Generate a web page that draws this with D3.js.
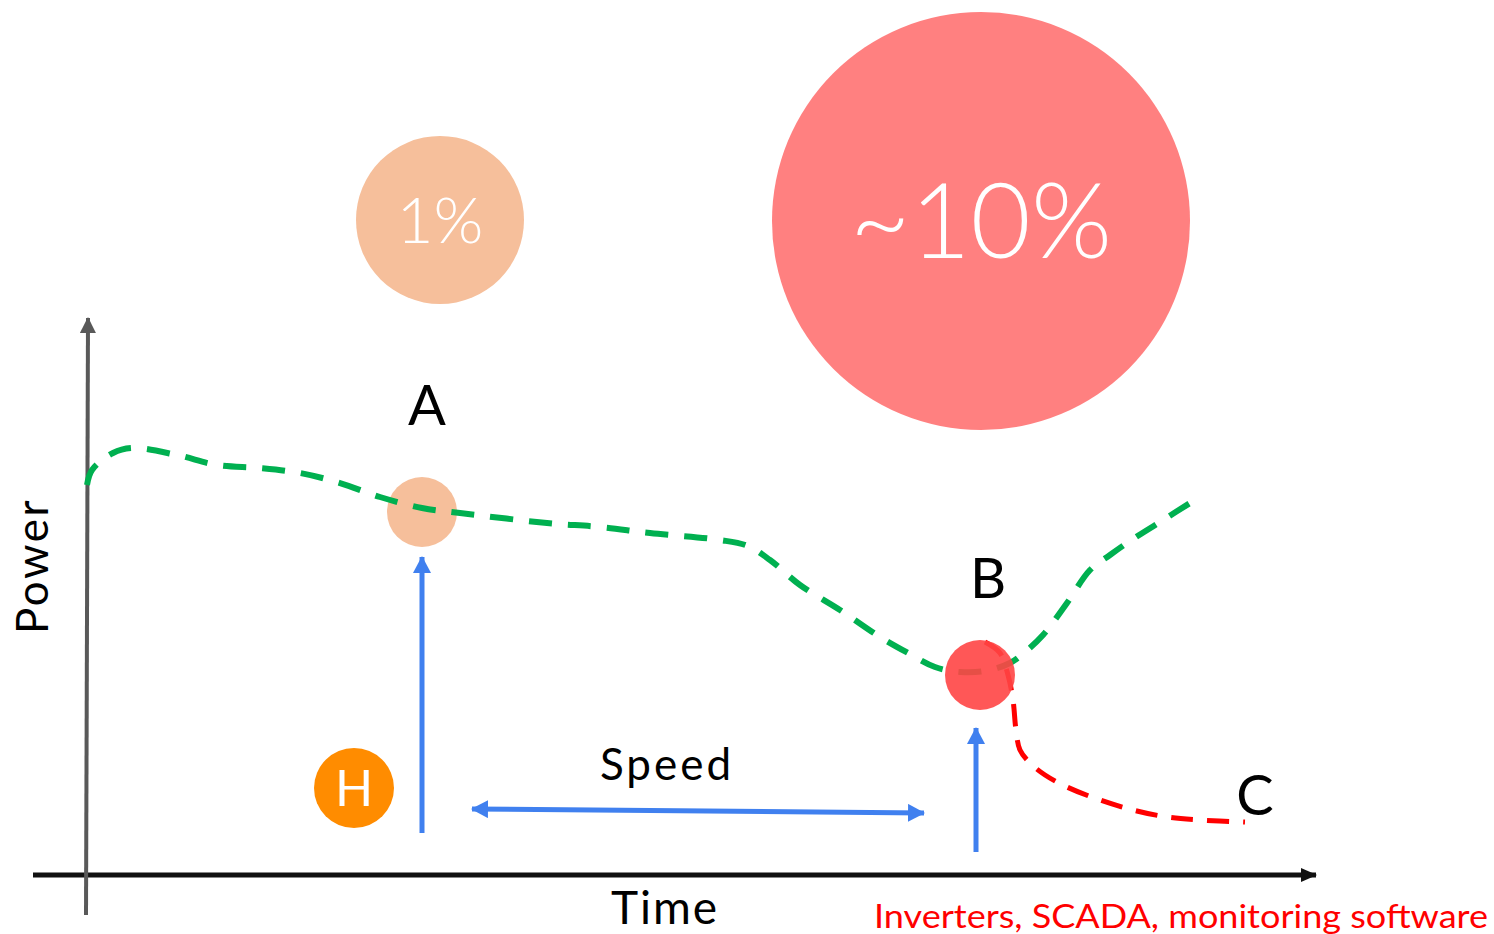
<!DOCTYPE html>
<html>
<head>
<meta charset="utf-8">
<script src="https://cdn.jsdelivr.net/npm/d3@7"></script>
<style>
  html, body { margin: 0; padding: 0; background: #fff; }
  svg text { font-family: Lato, "Open Sans", sans-serif; }
</style>
</head>
<body>
<script>
var W = 1494, H = 934;

// power curve, expected output (time, power)
var greenTime  = [0.1, 0.6, 2.7, 4.7, 9.1, 13.1, 17.4, 21.4, 25.4, 29.4, 33.6, 37.4, 46.1, 51.4, 56.4, 63.4, 66.2, 68.4, 71.4, 75.4, 79.4, 82.2, 84.9, 87.4, 89.9, 92.4, 93.9, 95.7, 98.1, 100.4, 102.4, 104.4, 107.4, 111.2];
var greenPower = [39.0, 40.5, 42.2, 42.7, 42.0, 41.0, 40.7, 40.2, 39.2, 37.8, 36.7, 36.2, 35.2, 34.8, 34.2, 33.5, 32.9, 31.5, 29.0, 26.5, 23.8, 22.2, 20.8, 20.3, 20.4, 21.2, 22.3, 24.0, 27.2, 30.5, 32.0, 33.4, 35.3, 37.7];

// failure branch
var redTime  = [89.9, 91.4, 92.2, 92.7, 93.0, 93.4, 94.4, 95.9, 98.1, 101.4, 104.7, 108.1, 111.4, 115.9];
var redPower = [23.3, 22.2, 20.0, 17.5, 14.5, 12.5, 11.2, 10.0, 8.8, 7.5, 6.5, 5.8, 5.5, 5.3];

// events on the curve
var events = [
  {name: "A", t: 33.6, p: 36.3, fill: "#f6bf9b", opacity: 1},
  {name: "B", t: 89.4, p: 20.0, fill: "#ff4545", opacity: 0.9}
];

// bubbles with loss share
var bubbles = [
  {label: "1%",   t: 35.4, p: 65.5, r: 84,  fill: "#f6bf9b", size: 64},
  {label: "~10%", t: 89.5, p: 65.4, r: 209, fill: "#ff8080", size: 104}
];

var svg = d3.select("body").append("svg")
  .attr("width", W).attr("height", H);

var x = d3.scaleLinear().domain([0, 120]).range([86, 1286]);
var y = d3.scaleLinear().domain([0, 55]).range([875, 325]);

var defs = svg.append("defs");
function marker(id, color, len, wid) {
  defs.append("marker")
    .attr("id", id)
    .attr("markerUnits", "userSpaceOnUse")
    .attr("viewBox", "0 0 " + len + " " + wid)
    .attr("refX", len - 1).attr("refY", wid / 2)
    .attr("markerWidth", len).attr("markerHeight", wid)
    .attr("orient", "auto-start-reverse")
    .append("path")
    .attr("d", "M0,0L" + len + "," + (wid / 2) + "L0," + wid + "Z")
    .attr("fill", color);
}
marker("blue", "#4080ef", 17, 18);
marker("black", "#111", 16, 14);
marker("gray", "#595959", 16, 16);

// big bubbles
var bub = svg.selectAll("g.bubble").data(bubbles).enter().append("g")
  .attr("class", "bubble")
  .attr("transform", function(d){ return "translate(" + x(d.t) + "," + y(d.p) + ")"; });
bub.append("circle").attr("r", function(d){ return d.r; })
  .attr("fill", function(d){ return d.fill; });
bub.append("text")
  .attr("text-anchor", "middle")
  .attr("dy", "0.36em")
  .attr("fill", "#fff")
  .style("font-weight", 300)
  .style("font-size", function(d){ return d.size + "px"; })
  .text(function(d){ return d.label; });

// axes
svg.append("line")
  .attr("x1", x(-5.3)).attr("y1", y(0))
  .attr("x2", x(123)).attr("y2", y(0))
  .attr("stroke", "#111").attr("stroke-width", 5)
  .attr("marker-end", "url(#black)");
svg.append("line")
  .attr("x1", x(0)).attr("y1", y(-4))
  .attr("x2", x(0.2)).attr("y2", y(55.7))
  .attr("stroke", "#595959").attr("stroke-width", 4)
  .attr("marker-end", "url(#gray)");

svg.append("text")
  .attr("x", 665).attr("y", 924)
  .attr("text-anchor", "middle")
  .style("font-size", "46px")
  .style("letter-spacing", "2px")
  .text("Time");
svg.append("text")
  .attr("transform", "translate(48,566) rotate(-90)")
  .attr("text-anchor", "middle")
  .style("font-size", "44px")
  .style("letter-spacing", "2.5px")
  .text("Power");
svg.append("text")
  .attr("x", 874).attr("y", 928)
  .attr("fill", "#ff0000")
  .attr("textLength", 614)
  .attr("lengthAdjust", "spacingAndGlyphs")
  .style("font-size", "33px")
  .text("Inverters, SCADA, monitoring software");

var line = d3.line()
  .x(function(d){ return x(d[0]); })
  .y(function(d){ return y(d[1]); })
  .curve(d3.curveCatmullRom);

// A sits under the line
svg.append("circle").attr("class", "event")
  .attr("cx", x(events[0].t)).attr("cy", y(events[0].p)).attr("r", 35)
  .attr("fill", events[0].fill);

svg.append("path")
  .datum(d3.zip(redTime, redPower))
  .attr("d", line)
  .attr("fill", "none")
  .attr("stroke", "#ff0000").attr("stroke-width", 5)
  .attr("stroke-dasharray", "22,14");

svg.append("path")
  .datum(d3.zip(greenTime, greenPower))
  .attr("d", line)
  .attr("fill", "none")
  .attr("stroke", "#00b050").attr("stroke-width", 6)
  .attr("stroke-dasharray", "23,16");

// B sits over the line
svg.append("circle").attr("class", "event")
  .attr("cx", x(events[1].t)).attr("cy", y(events[1].p)).attr("r", 35)
  .attr("fill", events[1].fill).attr("fill-opacity", events[1].opacity);

// point labels
var labels = [
  {name: "A", t: 34.1, p: 45.0},
  {name: "B", t: 90.2, p: 27.7},
  {name: "C", t: 116.9, p: 6.0}
];
svg.selectAll("text.pt").data(labels).enter().append("text")
  .attr("class", "pt")
  .attr("x", function(d){ return x(d.t); })
  .attr("y", function(d){ return y(d.p); })
  .attr("text-anchor", "middle")
  .style("font-size", "56px")
  .text(function(d){ return d.name; });

// detection arrows
var arrows = [
  {t1: 33.6, p1: 4.2, t2: 33.6, p2: 31.8, both: false},
  {t1: 89.0, p1: 2.3, t2: 89.0, p2: 14.7, both: false},
  {t1: 38.6, p1: 6.6, t2: 83.8, p2: 6.2, both: true}
];
svg.selectAll("line.arrow").data(arrows).enter().append("line")
  .attr("class", "arrow")
  .attr("x1", function(d){ return x(d.t1); })
  .attr("y1", function(d){ return y(d.p1); })
  .attr("x2", function(d){ return x(d.t2); })
  .attr("y2", function(d){ return y(d.p2); })
  .attr("stroke", "#4080ef").attr("stroke-width", 5)
  .attr("marker-end", "url(#blue)")
  .attr("marker-start", function(d){ return d.both ? "url(#blue)" : null; });

svg.append("text")
  .attr("x", 667).attr("y", 780)
  .attr("text-anchor", "middle")
  .style("font-size", "44px")
  .style("letter-spacing", "3px")
  .text("Speed");

// H badge
var hb = svg.append("g").attr("transform", "translate(" + x(26.8) + "," + y(8.7) + ")");
hb.append("circle").attr("r", 40).attr("fill", "#ff8c00");
hb.append("text")
  .attr("text-anchor", "middle").attr("dy", "0.36em")
  .attr("fill", "#fff")
  .style("font-size", "50px")
  .text("H");
</script>
</body>
</html>
